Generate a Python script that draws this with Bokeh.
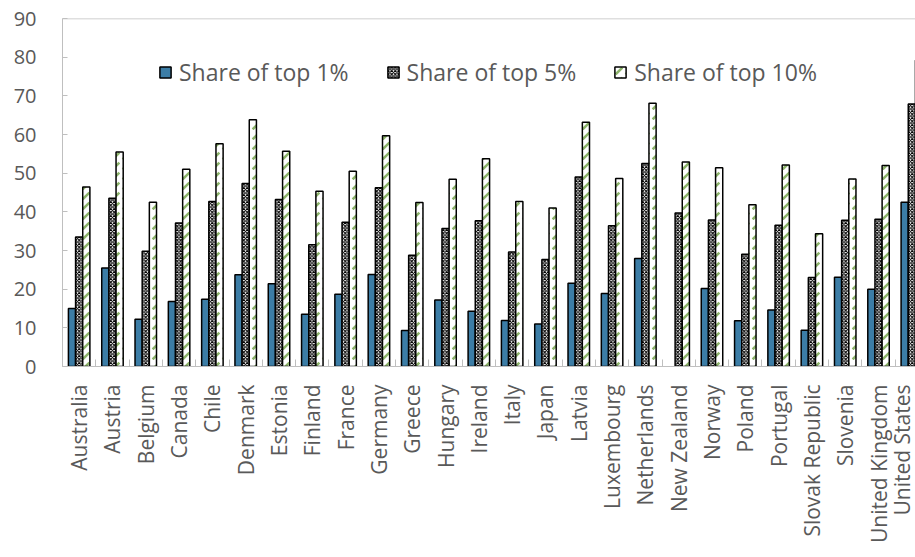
import math
from bokeh.plotting import figure
from bokeh.models import (ColumnDataSource, Range1d, FixedTicker, Legend, LegendItem, Span)
from bokeh.transform import dodge
from bokeh.embed import file_html
from bokeh.resources import INLINE

countries = ["Australia", "Austria", "Belgium", "Canada", "Chile", "Denmark", "Estonia",
             "Finland", "France", "Germany", "Greece", "Hungary", "Ireland", "Italy", "Japan",
             "Latvia", "Luxembourg", "Netherlands", "New Zealand", "Norway", "Poland",
             "Portugal", "Slovak Republic", "Slovenia", "United Kingdom", "United States"]
top1 = [15.0, 25.5, 12.2, 16.8, 17.4, 23.7, 21.4, 13.5, 18.7, 23.8, 9.3, 17.2, 14.3, 11.9,
        11.0, 21.5, 18.9, 27.9, float("nan"), 20.2, 11.8, 14.6, 9.4, 23.1, 20.0, 42.5]
top5 = [33.5, 43.5, 29.8, 37.1, 42.7, 47.3, 43.2, 31.5, 37.3, 46.2, 28.8, 35.7, 37.7, 29.6,
        27.7, 49.0, 36.4, 52.5, 39.7, 37.9, 29.0, 36.5, 23.0, 37.8, 38.1, 67.9]
top10 = [46.4, 55.5, 42.5, 51.0, 57.6, 63.8, 55.7, 45.3, 50.5, 59.7, 42.4, 48.4, 53.7, 42.7,
         41.0, 63.2, 48.6, 68.1, 52.9, 51.4, 41.8, 52.1, 34.3, 48.5, 52.0, 79.2]
series_labels = ["Share of top 1%", "Share of top 5%", "Share of top 10%"]
y_ticks = [0, 10, 20, 30, 40, 50, 60, 70, 80, 90]

FONT = "Open Sans"
TXT = "#595959"
GRID = "#BFBFBF"
n = len(countries)
idx = list(range(n))
src = ColumnDataSource(dict(x=idx, top1=top1, top5=top5, top10=top10))

p = figure(width=915, height=557, output_backend="svg", toolbar_location=None,
           x_range=Range1d(-0.5, 25.11), y_range=Range1d(y_ticks[0], y_ticks[-1]),
           min_border_left=62, min_border_right=0, min_border_top=18, min_border_bottom=191,
           background_fill_color="white", border_fill_color="white")
p.outline_line_color = None
p.xgrid.visible = False
p.ygrid.visible = False

bw = 0.215
r1 = p.vbar(x=dodge("x", -bw, range=p.x_range), top="top1", width=bw, source=src,
            fill_color="#3C7DA6", line_color="black", line_width=1.5)
r2 = p.vbar(x=dodge("x", 0, range=p.x_range), top="top5", width=bw, source=src,
            fill_color="white", line_color="black", line_width=1.5,
            hatch_pattern="diagonal_cross", hatch_color="black", hatch_scale=3.5,
            hatch_weight=1.1)
r3 = p.vbar(x=dodge("x", bw, range=p.x_range), top="top10", width=bw, source=src,
            fill_color="white", line_color="black", line_width=1.5,
            hatch_pattern="right_diagonal_dash", hatch_color="#8DB46B", hatch_scale=10,
            hatch_weight=2.5)

# y axis
p.yaxis.ticker = FixedTicker(ticks=y_ticks)
p.yaxis.minor_tick_line_color = None
p.yaxis.major_tick_in = 5
p.yaxis.major_tick_out = 0
p.yaxis.major_tick_line_color = GRID
p.yaxis.axis_line_color = GRID
p.yaxis.major_label_standoff = 26
p.yaxis.major_label_text_font = FONT
p.yaxis.major_label_text_font_size = "20px"
p.yaxis.major_label_text_color = TXT

# x axis: labels at category centres, small ticks at category boundaries
p.xaxis.ticker = FixedTicker(ticks=idx, minor_ticks=[i - 0.5 for i in range(n + 1)])
p.xaxis.major_label_overrides = {i: c for i, c in enumerate(countries)}
p.xaxis.major_label_orientation = math.pi / 2
p.xaxis.major_tick_line_color = None
p.xaxis.major_tick_in = 0
p.xaxis.major_tick_out = 0
p.xaxis.minor_tick_in = 7
p.xaxis.minor_tick_out = 0
p.xaxis.minor_tick_line_color = GRID
p.xaxis.axis_line_color = GRID
p.xaxis.major_label_standoff = 18
p.xaxis.major_label_text_font = FONT
p.xaxis.major_label_text_font_size = "21px"
p.xaxis.major_label_text_color = TXT

p.add_layout(Span(location=y_ticks[-1], dimension="width", line_color=GRID, line_width=1.5))

legend = Legend(items=[LegendItem(label=series_labels[0], renderers=[r1]),
                       LegendItem(label=series_labels[1], renderers=[r2]),
                       LegendItem(label=series_labels[2], renderers=[r3])],
                location=(96, 278), orientation="horizontal",
                background_fill_alpha=0, border_line_alpha=0, padding=0, margin=0,
                spacing=37, label_standoff=7, glyph_width=14, glyph_height=14,
                label_text_font=FONT, label_text_font_size="23px", label_text_color=TXT)
p.add_layout(legend)

open("out.html", "w").write(file_html(p, INLINE))
